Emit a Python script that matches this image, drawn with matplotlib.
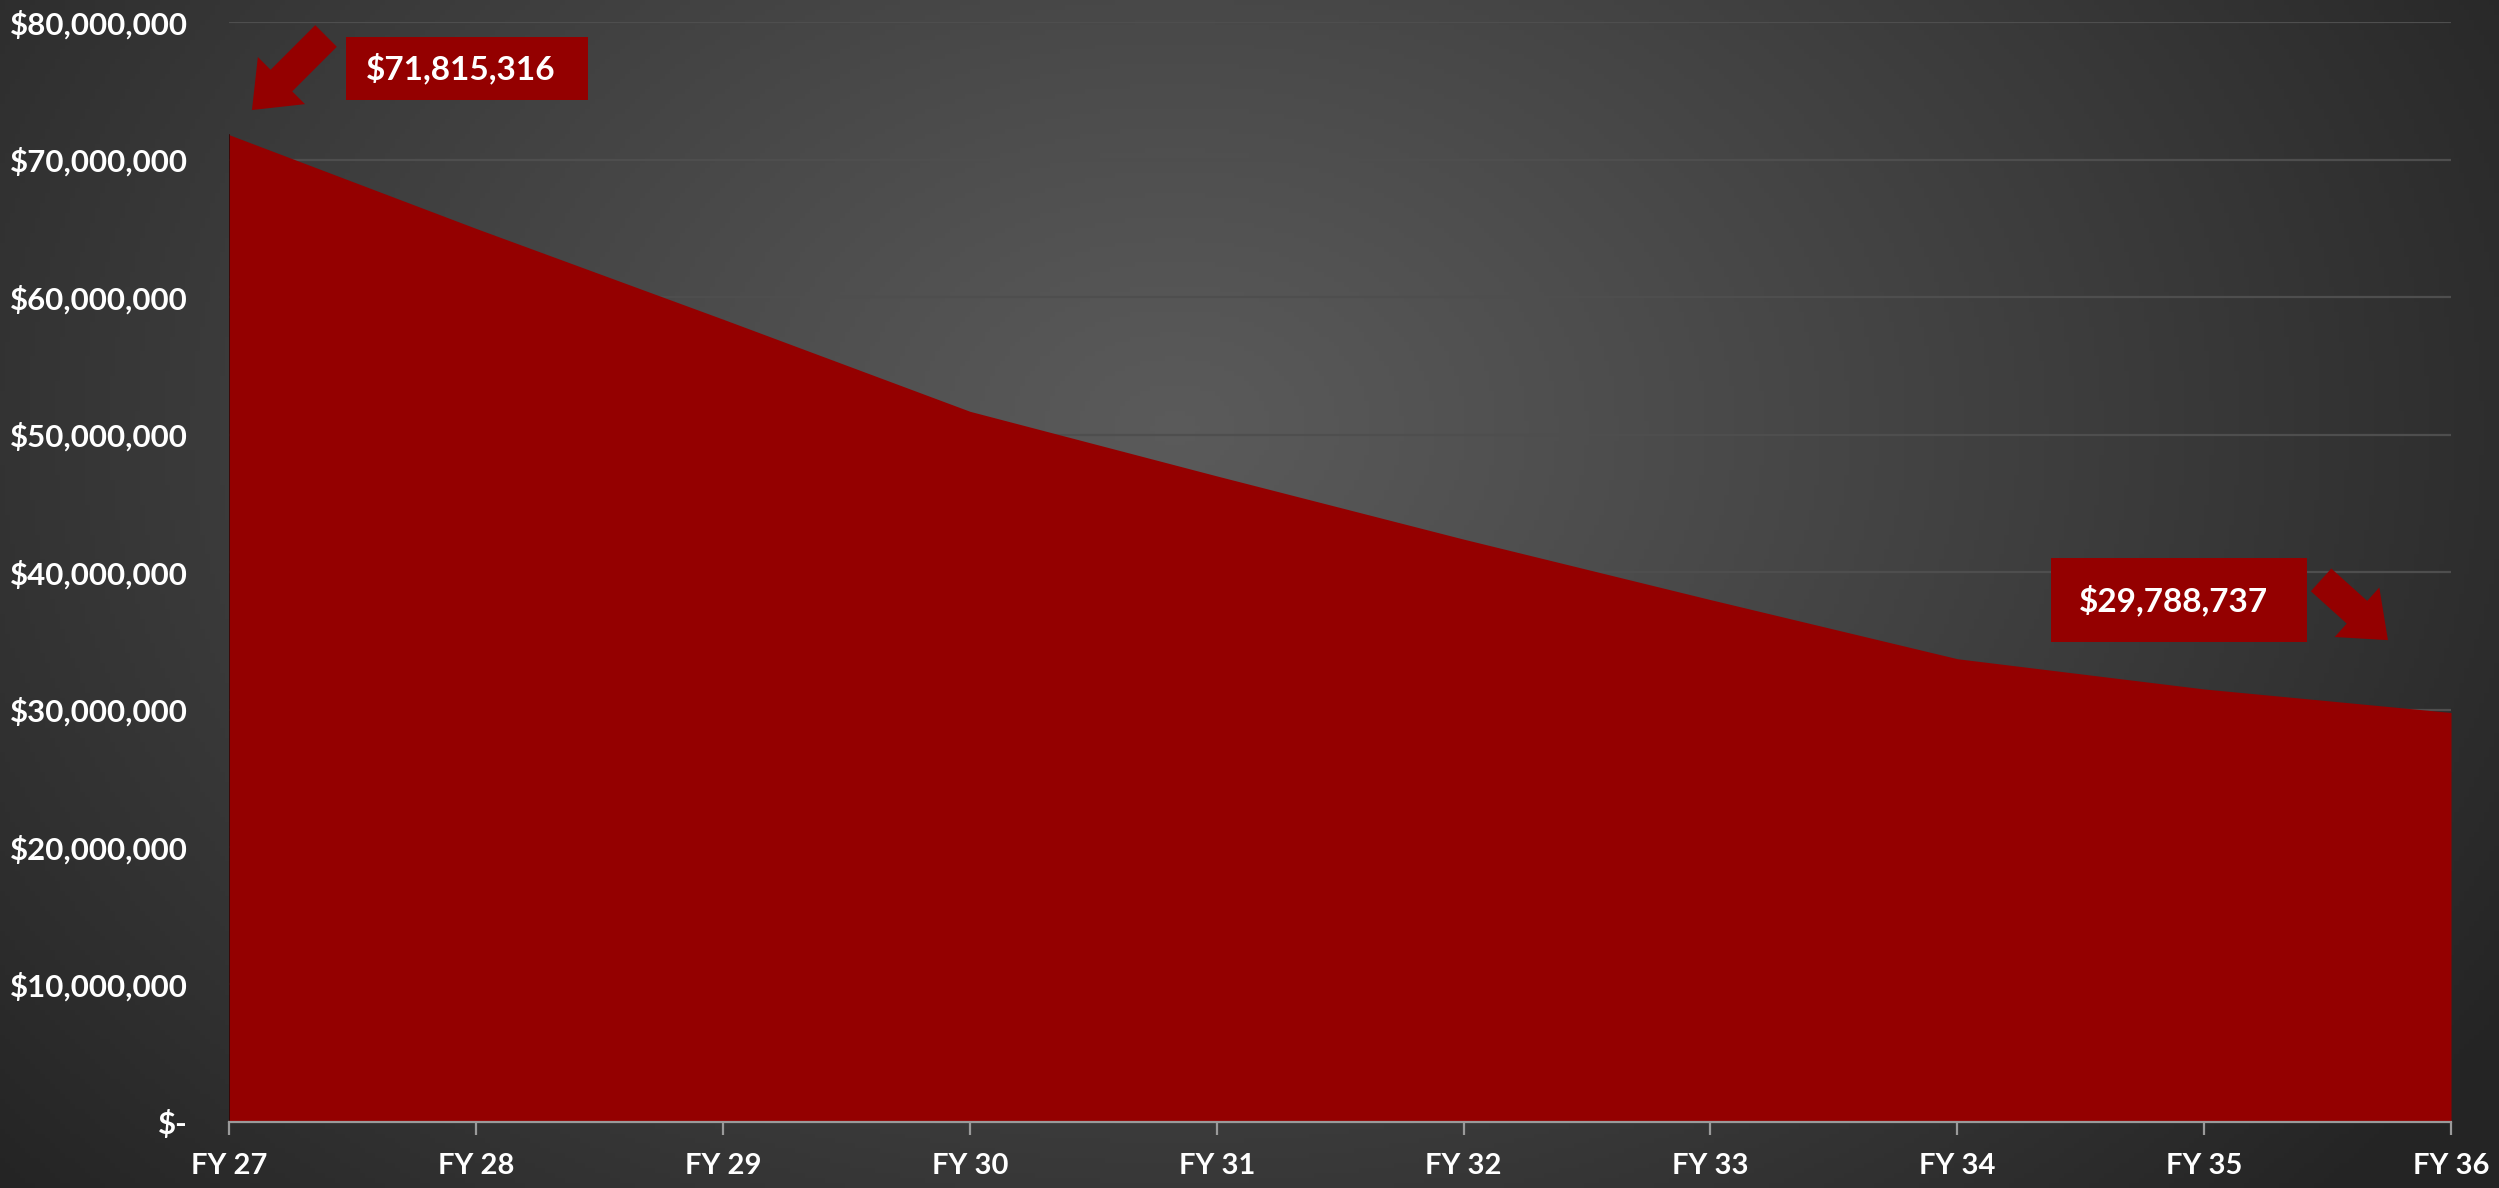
import numpy as np
import matplotlib.pyplot as plt
from matplotlib.patches import FancyArrowPatch, Rectangle
from matplotlib.ticker import FuncFormatter

years = ["FY 27", "FY 28", "FY 29", "FY 30", "FY 31", "FY 32", "FY 33", "FY 34", "FY 35", "FY 36"]
values = [71815316, 65000000, 58400000, 51700000, 47000000, 42400000, 38000000, 33700000, 31500000, 29788737]

plt.rcParams['font.family'] = ['Lato', 'DejaVu Sans']
plt.rcParams['font.weight'] = 'bold'

W, H = 2499, 1188
fig = plt.figure(figsize=(W / 100, H / 100), dpi=100)

# radial gradient background
bg = fig.add_axes([0, 0, 1, 1], zorder=-10)
gx, gy = np.meshgrid(np.linspace(0, 1, 500), np.linspace(0, 1, 240))
d = np.sqrt(((gx - 0.47) / 0.62) ** 2 + ((gy - 0.36) / 0.95) ** 2)
d = np.clip(d, 0, 1)
shade = 0.355 - (0.355 - 0.145) * d ** 1.1
img = np.dstack([shade, shade, shade])
bg.imshow(img, extent=[0, 1, 0, 1], aspect='auto', origin='upper')
bg.set_axis_off()

ax = fig.add_axes([0.0918, 0.0556, 0.9808 - 0.0918, 0.9812 - 0.0556])
ax.set_facecolor('none')
x = np.arange(len(years))
ax.fill_between(x, values, 0, color='#940000', linewidth=0, zorder=3)
ax.plot([0, 0], [0, values[0]], color='#3a0000', lw=1.2, zorder=4)

ax.set_xlim(0, len(years) - 1)
ax.set_ylim(0, 80000000)
ax.set_yticks(np.arange(0, 80000001, 10000000))
ax.yaxis.set_major_formatter(FuncFormatter(lambda v, p: "$-" if v == 0 else "${:,.0f}".format(v)))
ax.set_xticks(x)
ax.set_xticklabels(years)

ax.grid(axis='y', color='#4e4e4e', lw=1.6, zorder=1)
ax.set_axisbelow(True)
for s in ['top', 'right', 'left']:
    ax.spines[s].set_visible(False)
ax.spines['bottom'].set_color('#9a9a9a')
ax.spines['bottom'].set_linewidth(1.6)
ax.spines['bottom'].set_zorder(5)
ax.tick_params(axis='y', length=0, pad=30, labelsize=22.5, labelcolor='white')
ax.tick_params(axis='x', length=9, width=1.6, color='#9a9a9a', pad=13, labelsize=21, labelcolor='white')
for lab in ax.get_xticklabels() + ax.get_yticklabels():
    lab.set_fontweight('bold')

red = '#940000'

def px(xp, yp):
    return (xp / W, 1 - yp / H)

# callout boxes
for (x0, y0, x1, y1), pad, txt in [((346, 37, 588, 100), 20, "$71,815,316"),
                                   ((2051, 558, 2307, 642), 28, "$29,788,737")]:
    fx0, fy1 = px(x0, y0)
    fx1, fy0 = px(x1, y1)
    fig.patches.append(Rectangle((fx0, fy0), fx1 - fx0, fy1 - fy0, transform=fig.transFigure,
                                 facecolor=red, edgecolor='none', zorder=6))
    fig.text(fx0 + pad / W, (fy0 + fy1) / 2, txt, color='white', fontsize=24, fontweight='bold',
             ha='left', va='center', zorder=7)

# block arrows
for tail, head in [((328, 34), (250, 112)), ((2319, 578), (2390, 642))]:
    arr = FancyArrowPatch(px(*tail), px(*head), transform=fig.transFigure,
                          arrowstyle='simple,head_width=48,head_length=30,tail_width=22',
                          mutation_scale=1, facecolor=red, edgecolor='none', zorder=6)
    fig.patches.append(arr)

fig.savefig('out.png', dpi=100)
